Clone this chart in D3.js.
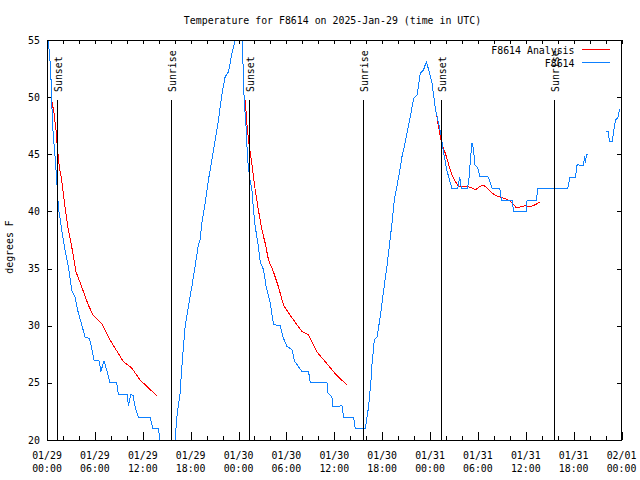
<!DOCTYPE html>
<html>
<head>
<meta charset="utf-8">
<script src="https://cdn.jsdelivr.net/npm/d3@7"></script>
<style>
  html, body { margin: 0; padding: 0; background: #fff; }
  svg { display: block; }
  text { font-family: "DejaVu Sans Mono", "Liberation Mono", monospace; font-size: 9.9px; fill: #000; }
</style>
</head>
<body>
<svg id="chart" width="640" height="480"></svg>
<script>
// ---- Data (hours since 2025-01-29 00:00 UTC) ----
const titleText = "Temperature for F8614 on 2025-Jan-29 (time in UTC)";
const yLabel = "degrees F";
const seriesNames = ["F8614 Analysis", "F8614"];
const yTicks = [20, 25, 30, 35, 40, 45, 50, 55];

// Observed F8614 (null = gap in data)
const obsHours = [
  0, 0.16, 0.46, 0.59, 0.72, 1.0, 1.22, 1.42, 1.84, 2.26, 2.67, 3.10, 3.51, 3.93, 4.35, 4.77,
  5.31, 5.61, 5.90, 6.56, 6.74, 7.15, 7.49, 7.90, 8.74, 8.94, 10.07, 10.20, 10.50, 10.79, 11.04,
  11.45, 12.92, 13.26, 13.96, 14.17, 14.6, 15.6, 16.06, 16.27, 16.68, 16.90, 17.10, 17.31, 17.72,
  18.15, 18.56, 18.98, 19.19, 19.40, 19.82, 20.23, 20.66, 21.07, 21.49, 21.91, 22.33, 22.74, 23.17,
  23.58, 24.0, 24.50, 24.55, 24.71, 24.96, 25.13, 25.38, 25.68, 25.88, 26.09, 26.50, 26.72, 27.13,
  27.47, 27.97, 28.39, 29.23, 29.57, 30.07, 30.70, 31.02, 31.95, 32.78, 32.99, 35.09, 35.21, 35.71,
  35.79, 36.97, 37.17, 38.42, 38.64, 39.89, 40.30, 40.61, 40.73, 41.02, 41.36, 41.77, 42.19, 42.61,
  42.94, 43.24, 43.53, 44.07, 44.49, 44.91, 45.45, 45.95, 46.38, 46.79, 47.20, 47.54, 47.83, 48.26,
  48.67, 49.08, 49.38, 49.64, 49.80, 50.05, 50.34, 50.76, 51.47, 51.72, 51.93, 52.65, 52.85, 53.06,
  53.27, 53.47, 53.60, 53.98, 54.23, 55.23, 55.57, 55.78, 56.74, 56.95, 58.29, 58.49, 60.05, 60.17,
  61.34, 61.50, 65.27, 65.52, 66.23, 66.44, 67.20, 67.40, 67.48, 67.61, 67.82, 68.9,
  70.0, 70.34, 70.50, 70.84, 71.04, 71.25, 71.54, 71.75, 71.88
];
const obsTemps = [
  56.2, 55.0, 52.5, 49.7, 47.3, 44.9, 42.75, 40.4, 38.4, 36.6, 35.2, 33.1, 32.5, 31.1, 30.1, 29.0,
  28.9, 28.0, 27.0, 26.9, 26.0, 26.9, 26.1, 25.0, 25.0, 24.0, 24.0, 23.0, 24.0, 23.9, 22.9,
  22.0, 22.0, 21.0, 21.0, 20.0, 19.2, 19.0, 20.0, 22.0, 24.1, 26.4, 28.2, 29.9, 31.7,
  33.4, 35.2, 37.1, 37.5, 39.0, 40.7, 42.75, 44.5, 46.25, 48.0, 50.2, 51.8, 52.2, 53.8,
  55.0, 55.8, 55.0, 53.25, 49.75, 47.3, 44.7, 43.0, 41.9, 40.1, 38.7, 36.9, 35.6, 34.9,
  33.4, 32.0, 30.1, 30.0, 29.0, 28.2, 27.9, 26.9, 26.0, 26.0, 25.0, 25.0, 24.1, 23.8,
  22.9, 23.0, 22.0, 22.0, 21.0, 21.0, 22.9, 25.25, 26.6, 28.75, 29.0, 30.8, 33.1, 35.2,
  37.2, 39.0, 41.0, 43.0, 44.8, 46.1, 48.0, 49.9, 50.2, 52.1, 52.4, 53.1, 52.4, 51.2,
  49.0, 47.7, 46.7, 45.4, 44.8, 43.8, 43.0, 42.0, 42.0, 43.0, 42.0, 42.0, 42.6, 44.5,
  46.0, 45.4, 44.1, 43.8, 43.1, 43.1, 42.5, 42.0, 42.0, 41.0, 41.0, 40.0, 40.0, 41.0,
  41.0, 42.0, 42.0, 43.0, 43.0, 44.1, 44.0, 44.8, 44.2, 45.0, 45.0, null,
  47.0, 47.0, 46.1, 46.1, 47.1, 48.0, 48.2, 48.9, 49.0
];

// Analysis (three nightly runs; null = break)
const anaHours = [
  0.59, 0.88, 1.13, 1.29, 1.54, 1.84, 2.26, 2.67, 3.10, 3.64, 4.35, 5.18, 5.81, 6.86, 7.90, 9.57,
  10.62, 11.67, 13.26, 13.76, 14.0,
  24.84, 25.05, 25.25, 25.68, 26.09, 26.50, 26.93, 27.35, 27.76, 28.39, 29.01, 29.64, 30.48, 31.52,
  31.95, 32.78, 33.83, 34.87, 36.13, 37.59, 38.0,
  48.80, 48.96, 49.30, 49.71, 49.92, 50.34, 50.76, 51.18, 51.59, 52.65, 53.06, 53.69, 54.31, 54.73,
  55.36, 55.78, 56.41, 57.04, 57.66, 58.08, 58.49, 58.83, 59.33, 59.96, 60.59, 61.21, 61.75
];
const anaTemps = [
  49.75, 48.6, 47.1, 45.7, 43.9, 42.75, 40.4, 38.4, 36.9, 34.7, 33.4, 31.8, 30.9, 30.2, 28.75, 26.85,
  26.3, 25.25, 24.2, 23.9, null,
  49.75, 47.7, 46.25, 44.1, 41.9, 40.1, 38.4, 37.2, 35.75, 34.7, 33.4, 31.8, 30.9, 29.9,
  29.5, 29.2, 27.7, 26.85, 25.8, 24.8, null,
  48.7, 47.85, 46.5, 45.4, 45.1, 44.1, 43.2, 42.6, 42.2, 42.2, 42.1, 41.9, 42.2, 42.3,
  41.9, 41.6, 41.35, 41.2, 41.05, 40.9, 40.6, 40.3, 40.4, 40.5, 40.4, 40.6, 40.8
];

// Sun events (hours since start)
const sunEventHours = [1.22, 15.52, 25.28, 39.55, 49.34, 63.51];
const sunEventNames = ["Sunset", "Sunrise", "Sunset", "Sunrise", "Sunset", "Sunrise"];

// ---- Setup ----
const t0 = Date.UTC(2025, 0, 29, 0, 0);
const toDate = h => new Date(t0 + h * 3600e3);
const L = 47, R = 621.5, T = 40, B = 440;

const svg = d3.select("#chart");
const x = d3.scaleUtc().domain([toDate(0), toDate(72)]).range([L, R]);
const y = d3.scaleLinear().domain([20, 55]).range([B, T]);

svg.append("rect").attr("width", 640).attr("height", 480).attr("fill", "#fff");

svg.append("defs").append("clipPath").attr("id", "clip")
  .append("rect").attr("x", L).attr("y", T).attr("width", R - L).attr("height", B - T);

// Title
svg.append("text").attr("x", 332.5).attr("y", 24).attr("text-anchor", "middle").text(titleText);

// Y label
svg.append("text").attr("transform", "translate(13,247) rotate(-90)")
  .attr("text-anchor", "middle").text(yLabel);

// Axes ticks
const minorTicks = d3.utcHour.every(2).range(toDate(0), toDate(72.01));
const majorTicks = d3.utcHour.every(6).range(toDate(0), toDate(72.01));

const gAxes = svg.append("g").attr("shape-rendering", "crispEdges");

gAxes.append("g").attr("transform", `translate(0,${B})`)
  .call(d3.axisBottom(x).tickValues(minorTicks).tickSize(-4).tickFormat(""))
  .call(g => g.select(".domain").remove());
gAxes.append("g").attr("transform", `translate(0,${B})`)
  .call(d3.axisBottom(x).tickValues(majorTicks).tickSize(-8).tickFormat(""))
  .call(g => g.select(".domain").remove());
gAxes.append("g").attr("transform", `translate(0,${T})`)
  .call(d3.axisTop(x).tickValues(minorTicks).tickSize(-4).tickFormat(""))
  .call(g => g.select(".domain").remove());
gAxes.append("g").attr("transform", `translate(${L},0)`)
  .call(d3.axisLeft(y).tickValues(yTicks).tickSize(-5).tickFormat(""))
  .call(g => g.select(".domain").remove());
gAxes.append("g").attr("transform", `translate(${R},0)`)
  .call(d3.axisRight(y).tickValues(yTicks).tickSize(-5).tickFormat(""))
  .call(g => g.select(".domain").remove());
gAxes.selectAll(".tick line").attr("stroke", "#000");

// X tick labels
const fmtD = d3.utcFormat("%m/%d"), fmtH = d3.utcFormat("%H:%M");
const xl = svg.append("g");
majorTicks.forEach(d => {
  const t = xl.append("text").attr("x", x(d)).attr("text-anchor", "middle");
  t.append("tspan").attr("x", x(d)).attr("y", 458.5).text(fmtD(d));
  t.append("tspan").attr("x", x(d)).attr("y", 472).text(fmtH(d));
});

// Y tick labels
svg.append("g").selectAll("text").data(yTicks).join("text")
  .attr("x", 40).attr("y", d => y(d) + 3.6).attr("text-anchor", "end").text(d => d);

// Data lines
const lineGen = d3.line()
  .defined(d => d[1] !== null)
  .x(d => x(toDate(d[0]))).y(d => y(d[1]));

const plot = svg.append("g").attr("clip-path", "url(#clip)");
plot.append("path")
  .datum(anaHours.map((h, i) => [h, anaTemps[i]]))
  .attr("d", lineGen).attr("fill", "none").attr("stroke", "#ff0000").attr("stroke-width", 1)
  .attr("shape-rendering", "crispEdges");
plot.append("path")
  .datum(obsHours.map((h, i) => [h, obsTemps[i]]))
  .attr("d", lineGen).attr("fill", "none").attr("stroke", "#0d80ff").attr("stroke-width", 1)
  .attr("shape-rendering", "crispEdges");

// Sun event lines & labels
const sun = svg.append("g");
sunEventHours.forEach((h, i) => {
  const xp = Math.round(x(toDate(h))) + 0.5;
  sun.append("line").attr("x1", xp).attr("x2", xp).attr("y1", 100).attr("y2", B)
    .attr("stroke", "#000").attr("stroke-width", 1).attr("shape-rendering", "crispEdges");
  sun.append("text").attr("transform", `translate(${xp + 4.5},92) rotate(-90)`)
    .attr("text-anchor", "start").text(sunEventNames[i]);
});

// Border
svg.append("rect").attr("x", L + 0.5).attr("y", T + 0.5).attr("width", R - L - 1).attr("height", B - T)
  .attr("fill", "none").attr("stroke", "#000").attr("shape-rendering", "crispEdges");

// Legend
const legColors = ["#ff0000", "#0d80ff"];
seriesNames.forEach((n, i) => {
  const yy = 49.5 + i * 13.3;
  svg.append("text").attr("x", 574.5).attr("y", yy + 4.3).attr("text-anchor", "end").text(n);
  svg.append("line").attr("x1", 581.5).attr("x2", 610).attr("y1", yy).attr("y2", yy)
    .attr("stroke", legColors[i]).attr("stroke-width", 1).attr("shape-rendering", "crispEdges");
});
</script>
</body>
</html>
